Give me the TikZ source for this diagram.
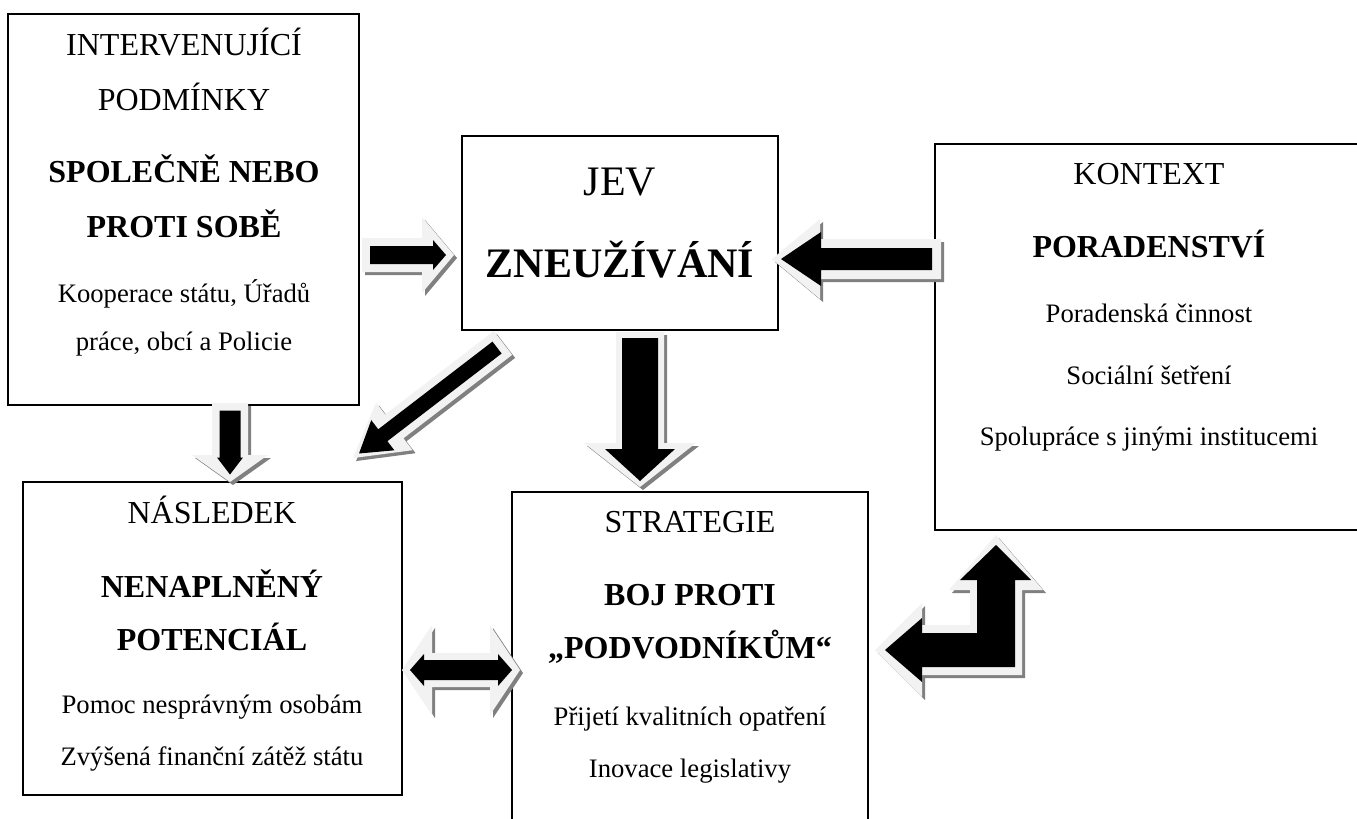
\documentclass[tikz,border=0pt]{standalone}
\usepackage{fontspec}
\setmainfont{Liberation Serif}
\usetikzlibrary{fit}
\definecolor{lightc}{HTML}{F2F2F2}
\definecolor{shadc}{HTML}{808080}
% straight block arrow: #1 tail, #2 angle, #3 length, #4 body half, #5 head half, #6 head length, #7 inner body half, #8 inner head half, #9 inner head length
\newcommand\barrow[9]{%
 \pgfmathsetmacro\bti{#4-#7}%
 \pgfmathsetmacro\bLi{#3-\bti}%
 \begin{scope}[shift={#1},shift={(3,3)},rotate=#2]
  \fill[shadc] (0,-#4) -- ({#3-#6},-#4) -- ({#3-#6},-#5) -- (#3,0) -- ({#3-#6},#5) -- ({#3-#6},#4) -- (0,#4) -- cycle;
 \end{scope}
 \begin{scope}[shift={#1},rotate=#2]
  \fill[lightc] (0,-#4) -- ({#3-#6},-#4) -- ({#3-#6},-#5) -- (#3,0) -- ({#3-#6},#5) -- ({#3-#6},#4) -- (0,#4) -- cycle;
  \fill[black] (\bti,-#7) -- ({\bLi-#9},-#7) -- ({\bLi-#9},-#8) -- (\bLi,0) -- ({\bLi-#9},#8) -- ({\bLi-#9},#7) -- (\bti,#7) -- cycle;
 \end{scope}}
\begin{document}
\begin{tikzpicture}[x=0.75pt,y=-0.75pt,
  box/.style={draw=black,line width=1.5pt,fill=white,inner sep=0pt},
  hdr/.style={anchor=base,inner sep=0pt,font=\fontsize{24}{28}\selectfont},
  bhdr/.style={anchor=base,inner sep=0pt,font=\fontsize{24}{28}\selectfont\bfseries},
  body/.style={anchor=base,inner sep=0pt,font=\fontsize{20}{24}\selectfont},
  big/.style={anchor=base,inner sep=0pt,font=\fontsize{31.5}{36}\selectfont},
  bbig/.style={anchor=base,inner sep=0pt,font=\fontsize{31.5}{36}\selectfont\bfseries}]
\path[use as bounding box,clip] (0,0) rectangle (1357,818);
\fill[white] (0,0) rectangle (1357,818);
% boxes
\node[box,fit={(8,14)(359,405)}] (inter) {};
\node[box,fit={(462,136)(778,330)}] (jev) {};
\node[box,fit={(935,144)(1368,530)}] (kontext) {};
\node[box,fit={(23,482)(402,795)}] (nasledek) {};
\node[box,fit={(512,492)(868,830)}] (strategie) {};
% texts
\node[hdr] (t1) at (184,55) {INTERVENUJÍCÍ};
\node[hdr] (t2) at (184,110) {PODMÍNKY};
\node[bhdr] (t3) at (184,182) {SPOLEČNĚ NEBO};
\node[bhdr] (t4) at (184,237) {PROTI SOBĚ};
\node[body] (t5) at (184,302) {Kooperace státu, Úřadů};
\node[body] (t6) at (184,350) {práce, obcí a Policie};
\node[big] (j1) at (620,195) {JEV};
\node[bbig] (j2) at (620,277) {ZNEUŽÍVÁNÍ};
\node[hdr] (k1) at (1149,184) {KONTEXT};
\node[bhdr] (k2) at (1149,257) {PORADENSTVÍ};
\node[body] (k3) at (1149,322) {Poradenská činnost};
\node[body] (k4) at (1149,384) {Sociální šetření};
\node[body] (k5) at (1149,445) {Spolupráce s jinými institucemi};
\node[hdr] (n1) at (212,523) {NÁSLEDEK};
\node[bhdr] (n2) at (212,597) {NENAPLNĚNÝ};
\node[bhdr] (n3) at (212,650) {POTENCIÁL};
\node[body] (n4) at (212,713) {Pomoc nesprávným osobám};
\node[body] (n5) at (212,765) {Zvýšená finanční zátěž státu};
\node[hdr] (s1) at (690,532) {STRATEGIE};
\node[bhdr] (s2) at (690,605) {BOJ PROTI};
\node[bhdr] (s3) at (690,658) {„PODVODNÍKŮM“};
\node[body] (s4) at (690,725) {Přijetí kvalitních opatření};
\node[body] (s5) at (690,777) {Inovace legislativy};
% block arrows
\coordinate (a1) at (362,255);
\coordinate (a2) at (941,259);
\coordinate (a3) at (503,343);
\coordinate (a4) at (230,403);
\coordinate (a5) at (640,332);
\barrow{(a1)}{0}{92}{17}{38}{32}{9}{15}{13}
\barrow{(a2)}{180}{169}{20}{40}{48}{11}{27}{40}
\barrow{(a3)}{-142.5}{189}{15}{30}{52}{7.5}{19}{30}
\barrow{(a4)}{-90}{79}{18}{38}{27}{10.5}{13}{17}
\barrow{(a5)}{-90}{155}{24}{56}{44}{18}{35}{32}
% double arrow
\coordinate (a6) at (402,670);
\begin{scope}[shift={(a6)},shift={(3,3)}]
 \fill[shadc] (0,0) -- (30,-45) -- (30,-17) -- (88,-17) -- (88,-45) -- (118,0) -- (88,45) -- (88,17) -- (30,17) -- (30,45) -- cycle;
\end{scope}
\begin{scope}[shift={(a6)}]
 \fill[lightc] (0,0) -- (30,-45) -- (30,-17) -- (88,-17) -- (88,-45) -- (118,0) -- (88,45) -- (88,17) -- (30,17) -- (30,45) -- cycle;
 \fill[black] (8,0) -- (22,-16) -- (22,-10) -- (96,-10) -- (96,-16) -- (110,0) -- (96,16) -- (96,10) -- (22,10) -- (22,16) -- cycle;
\end{scope}
% bent left-up arrow
\begin{scope}[shift={(3,3)}]
 \fill[shadc] (875,650) -- (922,603) -- (922,625) -- (970,625) -- (970,590) -- (949,590) -- (996,535) -- (1043,590) -- (1022,590) -- (1022,675) -- (922,675) -- (922,697) -- cycle;
\end{scope}
\fill[lightc] (875,650) -- (922,603) -- (922,625) -- (970,625) -- (970,590) -- (949,590) -- (996,535) -- (1043,590) -- (1022,590) -- (1022,675) -- (922,675) -- (922,697) -- cycle;
\fill[black] (885,650) -- (922,618) -- (922,633) -- (977,633) -- (977,580) -- (960,580) -- (996,545) -- (1031,580) -- (1015,580) -- (1015,667) -- (922,667) -- (922,682) -- cycle;
\end{tikzpicture}
\end{document}
